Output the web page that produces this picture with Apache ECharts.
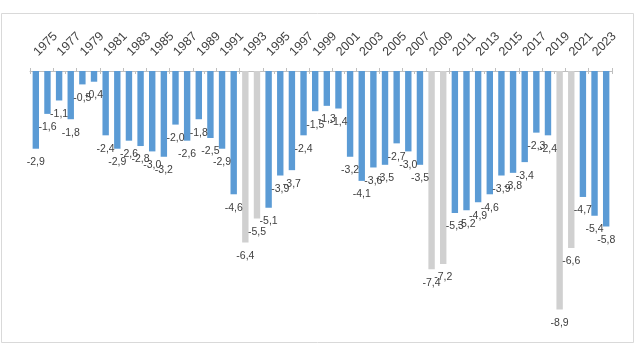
<!DOCTYPE html>
<html><head><meta charset="utf-8">
<script src="https://cdn.jsdelivr.net/npm/echarts@6/dist/echarts.min.js"></script>
<style>html,body{margin:0;padding:0;background:#fff}#c{width:636px;height:358px}</style>
</head><body><div id="c"></div>
<script>
const years = [1975,1976,1977,1978,1979,1980,1981,1982,1983,1984,1985,1986,1987,1988,1989,1990,1991,1992,1993,1994,1995,1996,1997,1998,1999,2000,2001,2002,2003,2004,2005,2006,2007,2008,2009,2010,2011,2012,2013,2014,2015,2016,2017,2018,2019,2020,2021,2022,2023,2024];
const values = [-2.9,-1.6,-1.1,-1.8,-0.5,-0.4,-2.4,-2.9,-2.6,-2.8,-3.0,-3.2,-2.0,-2.6,-1.8,-2.5,-2.9,-4.6,-6.4,-5.5,-5.1,-3.9,-3.7,-2.4,-1.5,-1.3,-1.4,-3.2,-4.1,-3.6,-3.5,-2.7,-3.0,-3.5,-7.4,-7.2,-5.3,-5.2,-4.9,-4.6,-3.9,-3.8,-3.4,-2.3,-2.4,-8.9,-6.6,-4.7,-5.4,-5.8];
const highlightYears = [1993,1994,2009,2010,2020,2021];
const blue = '#5B9BD5', grey = '#D0D0D0';

const chart = echarts.init(document.getElementById('c'), null, {renderer:'canvas'});
const cats = years.map(String);
chart.setOption({
  animation:false,
  backgroundColor:'#fff',
  graphic:[{type:'rect', shape:{x:1.5,y:13.5,width:632,height:329}, style:{fill:'none',stroke:'#D9D9D9',lineWidth:1}, silent:true}],
  grid:{left:30,right:24,top:71,height:268},
  xAxis:[{
    type:'category', data:cats, position:'top',
    axisLine:{show:true,lineStyle:{color:'#BFBFBF'}},
    axisTick:{show:true,length:3,lineStyle:{color:'#BFBFBF'}},
    axisLabel:{interval:1, rotate:45, margin:17, color:'#404040', fontFamily:'Liberation Sans', fontSize:12.5}
  },{
    type:'category', data:cats, position:'top',
    axisLine:{show:false},
    axisTick:{show:true,inside:true,length:3,lineStyle:{color:'#BFBFBF'}},
    axisLabel:{show:false}
  }],
  yAxis:{type:'value', min:-10, max:0, show:false, splitLine:{show:false}},
  series:[{
    type:'bar', barWidth:'55%',
    data: values.map((v,i)=>({value:v, itemStyle:{color: highlightYears.includes(years[i]) ? grey : blue}})),
    label:{show:true, position:'bottom', distance:8, color:'#404040', fontFamily:'Liberation Sans Narrow, Liberation Sans', fontSize:10.5,
      formatter:p=>p.value.toFixed(1).replace('.',',')}
  }]
});
</script></body></html>
